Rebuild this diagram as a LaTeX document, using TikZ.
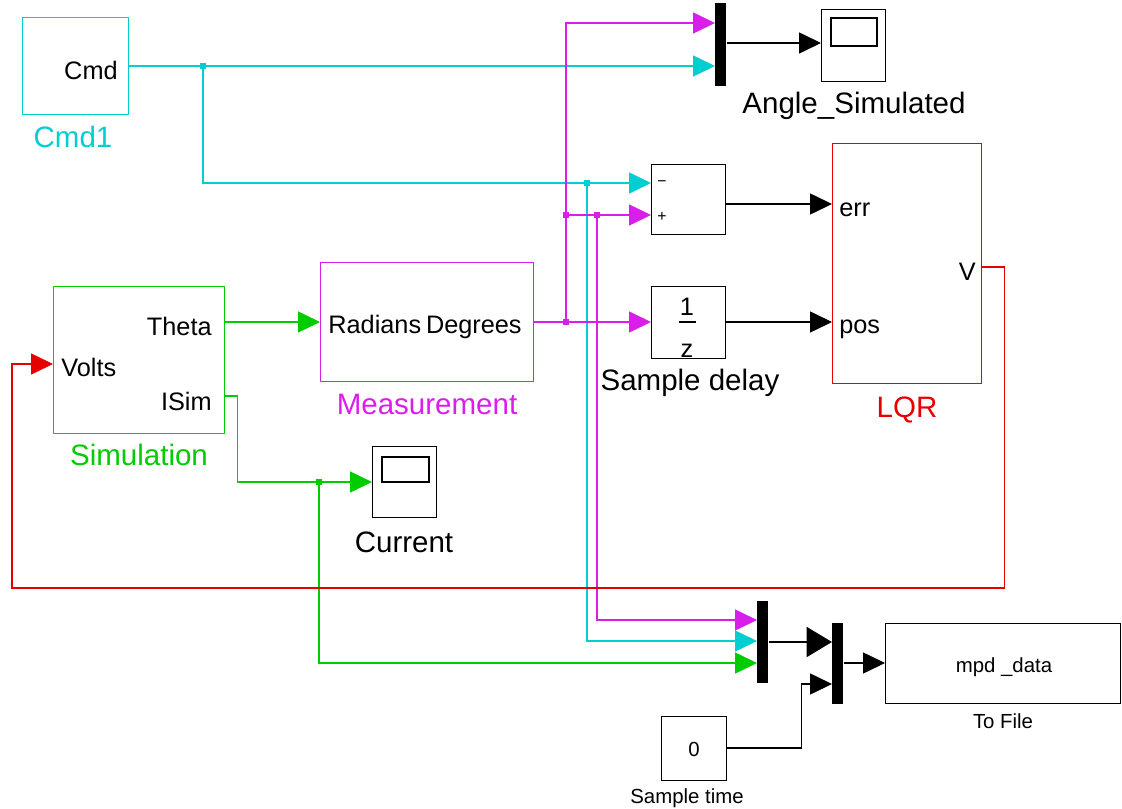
\documentclass[tikz,border=0pt]{standalone}
\usepackage{fontspec}
\setmainfont{Liberation Sans}
\usetikzlibrary{arrows.meta}

\definecolor{sigcyan}{RGB}{0,206,209}
\definecolor{sigmag}{RGB}{218,30,234}
\definecolor{siggreen}{RGB}{0,204,0}
\definecolor{sigred}{RGB}{230,0,0}
\newcommand{\pxl}{0.02cm}

\tikzset{
  wire/.style={line width=0.6pt},
  sig/.style={wire, -{Triangle[length=12.5pt,width=12pt]}},
  bigsig/.style={line width=1.6pt, -{Triangle[length=14.5pt,width=17pt]}},
  blk/.style={draw, line width=0.6pt, inner sep=0pt, anchor=north west},
  muxbar/.style={fill=black, inner sep=0pt, anchor=north west, minimum width=11*\pxl},
  junc/.style={inner sep=0pt, minimum size=3.4pt},
  bigtxt/.style={font=\fontsize{16.8}{19}\selectfont, inner sep=0pt, anchor=base},
  porttxt/.style={font=\fontsize{14.4}{16}\selectfont, inner sep=0pt, anchor=base},
  smalltxt/.style={font=\fontsize{11.6}{13}\selectfont, inner sep=0pt, anchor=base},
  signtxt/.style={font=\fontsize{9}{10}\selectfont, inner sep=0pt},
}

\begin{document}
\begin{tikzpicture}[x=0.02cm, y=-0.02cm]

    \useasboundingbox (0,0) rectangle (1122,808);

    \node[blk, draw=sigcyan, minimum width=106*\pxl, minimum height=97*\pxl] (cmdblk) at (22,17) {};
    \node[blk, draw=siggreen, minimum width=171*\pxl, minimum height=147*\pxl] (simblk) at (53,286) {};
    \node[blk, draw=sigmag, minimum width=213*\pxl, minimum height=119*\pxl] (measblk) at (320,262) {};
    \node[blk, minimum width=74*\pxl, minimum height=70*\pxl] (sumblk) at (651,164) {};
    \node[blk, minimum width=74*\pxl, minimum height=72*\pxl] (delayblk) at (651,286) {};
    \node[blk, draw=sigred, minimum width=149*\pxl, minimum height=240*\pxl] (lqrblk) at (832,143) {};
    \node[blk, minimum width=64*\pxl, minimum height=72*\pxl] (anglescope) at (821,9) {};
    \node[blk, minimum width=64*\pxl, minimum height=71*\pxl] (curscope) at (372,446) {};
    \node[blk, minimum width=235*\pxl, minimum height=80*\pxl] (fileblk) at (885,623) {};
    \node[blk, minimum width=65*\pxl, minimum height=64*\pxl] (timeblk) at (661,716) {};

    \node[muxbar, minimum height=83*\pxl] (muxtop) at (715,3) {};
    \node[muxbar, minimum height=82*\pxl] (muxlow) at (757,601) {};
    \node[muxbar, minimum height=81*\pxl] (muxfile) at (832,623) {};

    \draw[wire] (831,18) rectangle (877,46);
    \draw[wire] (382,457) rectangle (429,482);

    \coordinate (cmd-out) at (cmdblk.east |- 0,66);
    \coordinate (cmd-j) at (203,66);
    \coordinate (cmd-j2) at (587,183);
    \coordinate (theta-out) at (simblk.east |- 0,322);
    \coordinate (isim-out) at (simblk.east |- 0,396);
    \coordinate (isim-j) at (319,482);
    \coordinate (volts-in) at (simblk.west |- 0,364);
    \coordinate (meas-out) at (measblk.east |- 0,322);
    \coordinate (meas-j) at (566,322);
    \coordinate (meas-j2) at (566,215);
    \coordinate (meas-j3) at (597,215);
    \coordinate (v-out) at (lqrblk.east |- 0,267);
    \coordinate (time-out) at (timeblk.east |- 0,748);

    \draw[sigcyan, sig] (cmd-out) -- (muxtop.west |- cmd-out);
    \draw[sigcyan, sig] (cmd-j) |- (sumblk.west |- cmd-j2);
    \draw[sigcyan, sig] (cmd-j2) |- (muxlow.west |- 0,641);

    \draw[sigmag, sig] (meas-out) -- (delayblk.west |- meas-out);
    \draw[sigmag, sig] (meas-j) |- (muxtop.west |- 0,23);
    \draw[sigmag, sig] (meas-j2) -- (sumblk.west |- meas-j2);
    \draw[sigmag, sig] (meas-j3) |- (muxlow.west |- 0,620);

    \draw[siggreen, sig] (theta-out) -- (measblk.west |- theta-out);
    \draw[siggreen, sig] (isim-out) -- ++(12,0) |- (curscope.west |- isim-j);
    \draw[siggreen, sig] (isim-j) |- (muxlow.west |- 0,663);

    \draw[sigred, sig] (v-out) -- ++(22,0) |- (12,588) |- (volts-in);

    \draw[sig] (sumblk.east |- 0,204) -- (lqrblk.west |- 0,204);
    \draw[sig] (delayblk.east |- 0,322) -- (lqrblk.west |- 0,322);
    \draw[sig] (muxtop.east |- 0,43) -- (anglescope.west |- 0,43);
    \draw[bigsig] (muxlow.east |- 0,642) -- (muxfile.west |- 0,642);
    \draw[sig] (muxfile.east |- 0,663) -- (fileblk.west |- 0,663);
    \draw[sig] (time-out) -- ++(74,0) |- (muxfile.west |- 0,684);

    \node[junc, fill=sigcyan] (jc1) at (cmd-j) {};
    \node[junc, fill=sigcyan] (jc2) at (cmd-j2) {};
    \node[junc, fill=sigmag] (jm1) at (meas-j) {};
    \node[junc, fill=sigmag] (jm2) at (meas-j2) {};
    \node[junc, fill=sigmag] (jm3) at (meas-j3) {};
    \node[junc, fill=siggreen] (jg1) at (isim-j) {};

    \node[porttxt, anchor=base east] (cmdport) at (118,79) {Cmd};
    \node[bigtxt, sigcyan] (cmdname) at (73,147) {Cmd1};
    \node[bigtxt] (anglename) at (854,113) {Angle\_Simulated};
    \node[porttxt, anchor=base east] (thetaport) at (212,335) {Theta};
    \node[porttxt, anchor=base west] (voltsport) at (61,376) {Volts};
    \node[porttxt, anchor=base east] (isimport) at (212,410) {ISim};
    \node[bigtxt, siggreen] (simname) at (139,465) {Simulation};
    \node[porttxt, anchor=base west] (radport) at (328,333) {Radians};
    \node[porttxt, anchor=base east] (degport) at (522,333) {Degrees};
    \node[bigtxt, sigmag] (measname) at (427,414) {Measurement};
    \node[bigtxt] (curname) at (404,552) {Current};
    \node[signtxt] (minustxt) at (662,184) {−};
    \node[signtxt] (plustxt) at (662,217) {+};
    \node[porttxt] (onetxt) at (687,315) {1};
    \draw[wire] (679,322) -- (696,322);
    \node[porttxt] (ztxt) at (687,357) {z};
    \node[bigtxt] (delayname) at (690,390) {Sample delay};
    \node[porttxt, anchor=base west] (errport) at (839,216) {err};
    \node[porttxt, anchor=base west] (posport) at (839,333) {pos};
    \node[porttxt, anchor=base east] (vport) at (976,280) {V};
    \node[bigtxt, sigred] (lqrname) at (907,417) {LQR};
    \node[smalltxt] (filetxt) at (1004,672) {mpd \_data};
    \node[smalltxt] (filename) at (1003,728) {To File};
    \node[smalltxt] (zerotxt) at (694,756) {0};
    \node[smalltxt] (timename) at (687,803) {Sample time};

\end{tikzpicture}
\end{document}
